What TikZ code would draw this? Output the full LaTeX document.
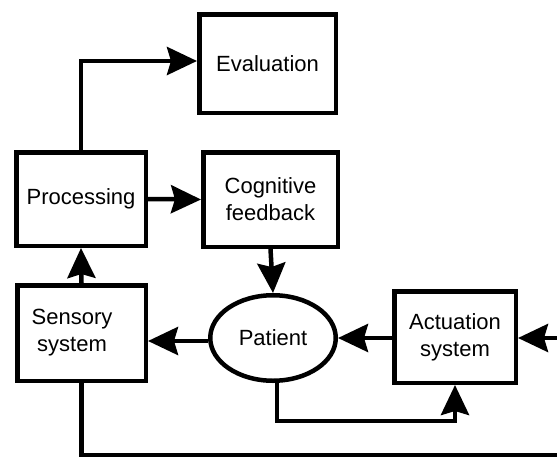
\documentclass[tikz,border=0pt]{standalone}
\usepackage{fontspec}
\setmainfont{Liberation Sans}
\usetikzlibrary{arrows.meta}
\usetikzlibrary{shapes.geometric}

\tikzset{
  blk/.style={shape=rectangle,draw=black,line width=4.5pt,align=center,
    font=\fontsize{22}{27}\selectfont},
  lbl/.style={align=center,font=\fontsize{22}{27}\selectfont},
  arr/.style={line width=4.5pt,-{Stealth[length=30pt,width=28pt,inset=4pt]}}
}

\begin{document}
\begin{tikzpicture}[x=1pt,y=-1pt]
\useasboundingbox (0,0) rectangle (557,458);
    \node[blk,minimum width=136.5pt,minimum height=98.5pt] (eval) at (267.5,63.5) {Evaluation};
     \node[blk,minimum width=134.5pt,minimum height=94.5pt] (cog) at (270.5,199.5) {Cognitive\\feedback};
      \node[blk,minimum width=129.5pt,minimum height=93.5pt] (proc) at (81,199) {Processing};
       \node[blk,minimum width=128.5pt,minimum height=95.5pt] (sens) at (81.5,333) {};
       \node[lbl] (senstxt) at (72,333) {Sensory\\system};
    \node[blk,shape=ellipse,minimum width=125.5pt,minimum height=85.5pt] (pat) at (273,338) {Patient};
     \node[blk,minimum width=121.5pt,minimum height=91.5pt] (act) at (455,337) {Actuation\\system};
    \coordinate (patlow) at (277,421);
    \coordinate (lowR) at (590,455);
    \draw[arr] (proc.north) |- ([yshift=2.5pt]eval.west);
    \draw[arr] (proc.east) -- (cog.west);
    \draw[arr] (cog.south) -- (pat.north);
    \draw[arr] (act.west |- pat.east) -- (pat.east);
    \draw[arr] ([yshift=-3pt]pat.west) -- ([yshift=-3pt]pat.west -| sens.east);
    \draw[arr] (sens.north) -- (proc.south);
    \draw[arr] (pat.south -| patlow) -- (patlow) -| (act.south);
    \draw[arr] (sens.south) |- (lowR) |- (act.east |- pat.east);
\end{tikzpicture}
\end{document}
